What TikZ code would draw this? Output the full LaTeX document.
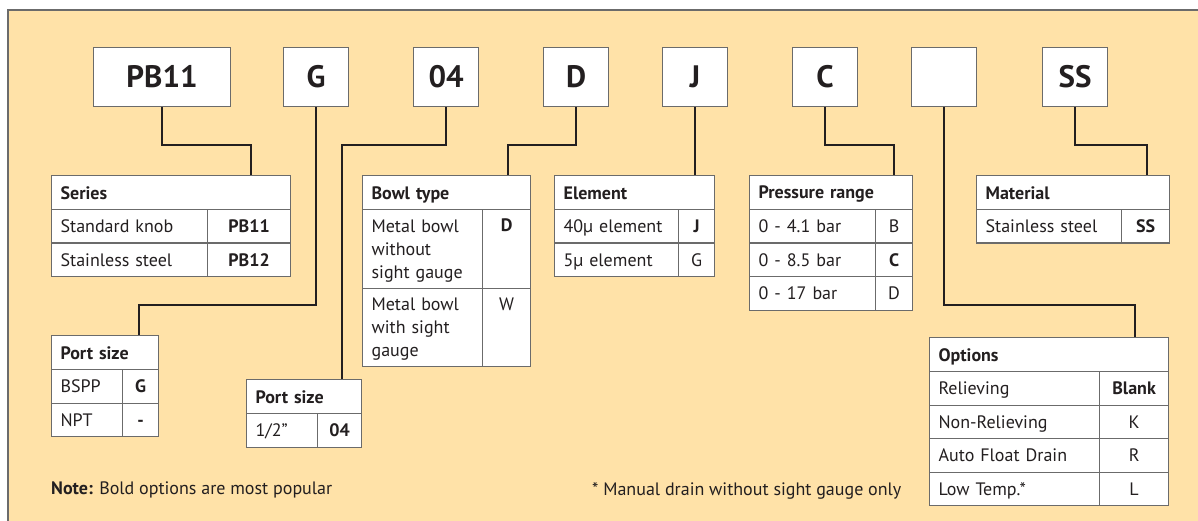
\documentclass[tikz,border=0pt]{standalone}
\usepackage{fontspec}
\setmainfont{PT Sans}
\usetikzlibrary{positioning,calc}
\definecolor{panelfill}{HTML}{FFE2A8}
\definecolor{ink}{HTML}{231F20}
\definecolor{rulegray}{HTML}{6B6B6B}
\newcommand{\tblfont}{\fontsize{18}{23}\selectfont}
\newcommand{\cellstrut}{\rule[-3.5pt]{0pt}{20pt}}
\tikzset{
  codebox/.style={draw=rulegray,fill=white,line width=1.2pt,anchor=north west,
                  minimum width=#1,minimum height=59pt,inner sep=0pt,
                  font=\fontsize{31}{36}\selectfont\bfseries,text=ink},
  thead/.style={draw=rulegray,fill=white,line width=1.2pt,anchor=north west,
                text width=#1-18pt,minimum height=34pt,inner xsep=9pt,inner ysep=0pt,
                align=left,font=\tblfont\bfseries,text=ink,
                execute at begin node=\cellstrut},
  lcell/.style={draw=rulegray,fill=white,line width=1.2pt,anchor=north west,
                text width=#1-18pt,minimum height=33.5pt,inner xsep=9pt,inner ysep=0pt,
                align=left,font=\tblfont,text=ink,
                execute at begin node=\cellstrut},
  ccell/.style={draw=rulegray,fill=white,line width=1.2pt,anchor=north west,
                minimum width=#1,minimum height=33.5pt,inner sep=0pt,
                font=\tblfont,text=ink,execute at begin node=\cellstrut},
  tabtxt/.style={font=\tblfont,text=ink,inner sep=0pt},
  conn/.style={draw=ink,line width=2.4pt}
}

\begin{document}
\begin{tikzpicture}[x=1pt,y=-1pt]
  \useasboundingbox (0,0) rectangle (1198,521);
  % panel
  \fill[panelfill] (8,10) rectangle (1198,521);
  \draw[rulegray,line width=1.2pt] (8,521) -- (8,10) -- (1198,10);

  % code boxes
  \node[codebox=137pt] (pb) at (93,47) {PB11};
  \foreach \nm/\x/\txt in {g/283/G,p04/413/04,d/543/D,j/662/J,c/792/C,blank/911/{},ss/1042/SS}
    \node[codebox=65pt] (\nm) at (\x,47) {\txt};

  % series
  \node[thead=239pt] (ser-h) at (51,175) {Series};
  \node[lcell=156pt] (ser-l1) at (51,209) {Standard knob};
  \node[ccell=83pt] (ser-c1) at (207,209) {\textbf{PB11}};
  \node[lcell=156pt] (ser-l2) at (51,242.5) {Stainless steel};
  \node[ccell=83pt] (ser-c2) at (207,242.5) {\textbf{PB12}};

  % port size G
  \node[thead=107pt] (ps1-h) at (51,335) {Port size};
  \node[lcell=71pt] (ps1-l1) at (51,369) {BSPP};
  \node[ccell=36pt] (ps1-c1) at (122,369) {\textbf{G}};
  \node[lcell=71pt] (ps1-l2) at (51,402.5) {NPT};
  \node[ccell=36pt] (ps1-c2) at (122,402.5) {\textbf{-}};

  % port size 04
  \node[thead=115pt] (ps2-h) at (246,379) {Port size};
  \node[lcell=71pt] (ps2-l1) at (246,413) {1/2"};
  \node[ccell=44pt] (ps2-c1) at (317,413) {\textbf{04}};

  % bowl type
  \node[thead=168pt] (bowl-h) at (362,175) {Bowl type};
  \node[lcell=120pt,minimum height=78.5pt] (bowl-l1) at (362,209)
    {Metal bowl\\without\\sight gauge};
  \node[ccell=48pt,minimum height=78.5pt,
        label={[tabtxt,anchor=north,yshift=-10pt]north:\textbf{D}}] (bowl-c1) at (482,209) {};
  \node[lcell=120pt,minimum height=78.5pt] (bowl-l2) at (362,287.5)
    {Metal bowl\\with sight\\gauge};
  \node[ccell=48pt,minimum height=78.5pt,
        label={[tabtxt,anchor=north,yshift=-10pt]north:W}] (bowl-c2) at (482,287.5) {};

  % element
  \node[thead=160pt] (el-h) at (554,175) {Element};
  \node[lcell=124pt] (el-l1) at (554,209) {40µ element};
  \node[ccell=36pt] (el-c1) at (678,209) {\textbf{J}};
  \node[lcell=124pt] (el-l2) at (554,242.5) {5µ element};
  \node[ccell=36pt] (el-c2) at (678,242.5) {G};

  % pressure range
  \node[thead=163pt] (pr-h) at (749,175) {Pressure range};
  \node[lcell=126pt] (pr-l1) at (749,209) {0 - 4.1 bar};
  \node[ccell=37pt] (pr-c1) at (875,209) {B};
  \node[lcell=126pt] (pr-l2) at (749,242.5) {0 - 8.5 bar};
  \node[ccell=37pt] (pr-c2) at (875,242.5) {\textbf{C}};
  \node[lcell=126pt] (pr-l3) at (749,276) {0 - 17 bar};
  \node[ccell=37pt] (pr-c3) at (875,276) {D};

  % material
  \node[thead=193pt] (mat-h) at (976,175) {Material};
  \node[lcell=145pt] (mat-l1) at (976,209) {Stainless steel};
  \node[ccell=48pt] (mat-c1) at (1121,209) {\textbf{SS}};

  % options
  \node[thead=239pt] (opt-h) at (929,337) {Options};
  \node[lcell=170pt] (opt-l1) at (929,371) {Relieving};
  \node[ccell=69pt] (opt-c1) at (1099,371) {\textbf{Blank}};
  \node[lcell=170pt] (opt-l2) at (929,404.5) {Non-Relieving};
  \node[ccell=69pt] (opt-c2) at (1099,404.5) {K};
  \node[lcell=170pt] (opt-l3) at (929,438) {Auto Float Drain};
  \node[ccell=69pt] (opt-c3) at (1099,438) {R};
  \node[lcell=170pt] (opt-l4) at (929,471.5) {Low Temp.*};
  \node[ccell=69pt] (opt-c4) at (1099,471.5) {L};

  % connectors
  \draw[conn] (pb.south) -- ++(0,38) -| ([xshift=-40pt]ser-h.north east);
  \draw[conn] (g.south) -- ++(0,198) -| ([xshift=-20pt]ps1-h.north east);
  \draw[conn] (p04.south) -- ++(0,38) -| ([xshift=-20pt]ps2-h.north east);
  \draw[conn] (d.south) -- ++(0,38) -| ([xshift=-23pt]bowl-h.north east);
  \draw[conn] (j.south) -- (j.south |- el-h.north);
  \draw[conn] (c.south) -- ++(0,38) -| ([xshift=-19pt]pr-h.north east);
  \draw[conn] (blank.south) -- ++(0,198) -| ([xshift=-34pt]opt-h.north east);
  \draw[conn] (ss.south) -- ++(0,38) -| ([xshift=-23pt]mat-h.north east);

  % notes
  \node[tabtxt,anchor=west] (note) at (51,490) {\textbf{Note:} Bold options are most popular};
  \node[tabtxt,anchor=west] (foot) at (592,491) {* Manual drain without sight gauge only};
\end{tikzpicture}
\end{document}
